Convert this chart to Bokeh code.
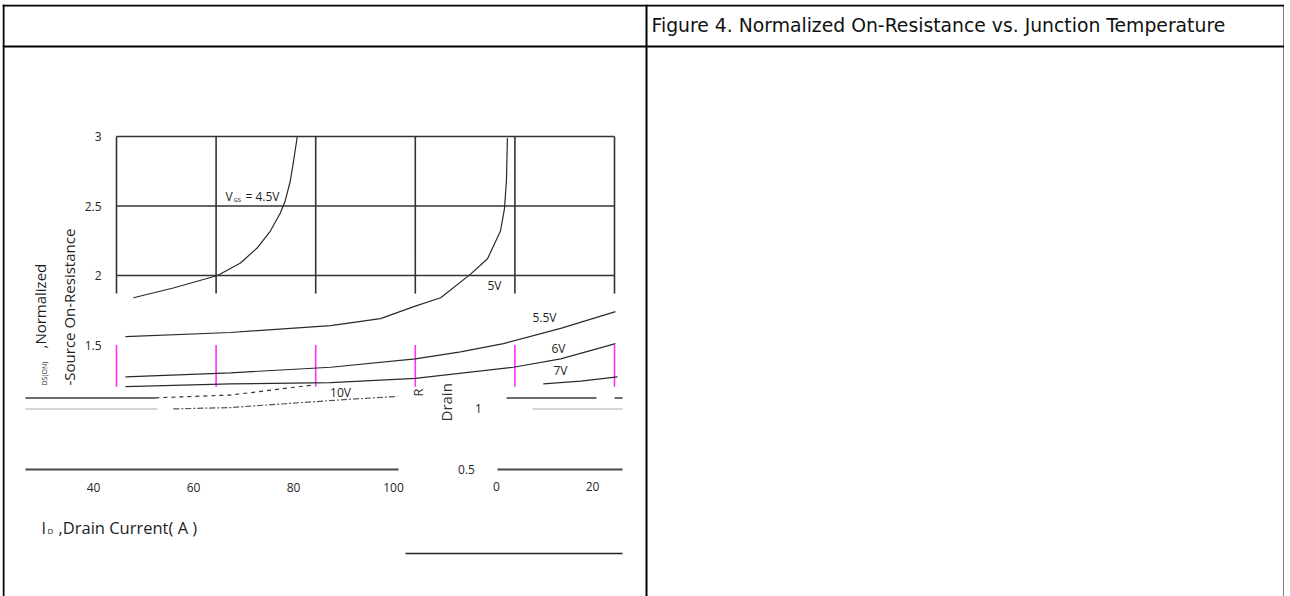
import math
from bokeh.plotting import figure
from bokeh.models import Range1d, Span
from bokeh.core.properties import value
from bokeh.embed import file_html
from bokeh.resources import INLINE

# ---------------- data ----------------
# Normalized on-resistance vs drain current, one curve per gate voltage
ID_45 = [3.4, 11.4, 20.3, 24.9, 28.3, 30.9, 32.9, 33.9, 34.9, 35.5, 36.3]
R_45 = [1.84, 1.91, 2.00, 2.09, 2.20, 2.32, 2.45, 2.54, 2.68, 2.81, 3.00]
ID_5 = [1.8, 22.9, 43.0, 53.0, 60.0, 65.1, 71.1, 74.5, 77.1, 77.9, 78.3, 78.5]
R_5 = [1.56, 1.59, 1.64, 1.69, 1.78, 1.84, 2.01, 2.12, 2.32, 2.48, 2.68, 2.99]
ID_55 = [1.8, 22.9, 43.0, 60.0, 69.1, 77.7, 89.2, 100.2]
R_55 = [1.27, 1.30, 1.34, 1.40, 1.45, 1.51, 1.62, 1.74]
ID_6 = [1.8, 22.9, 43.0, 60.0, 79.7, 89.2, 100.2]
R_6 = [1.20, 1.22, 1.23, 1.26, 1.34, 1.40, 1.51]
ID_7_LEFT = [7.8, 22.9, 39.0]
R_7_LEFT = [1.12, 1.14, 1.21]
ID_7_RIGHT = [85.7, 93.2, 100.6]
R_7_RIGHT = [1.22, 1.24, 1.27]
ID_10 = [11.4, 22.9, 34.9, 47.0, 56.4]
R_10 = [1.04, 1.05, 1.08, 1.11, 1.13]

GRID_ID = [0, 20, 40, 60, 80, 100]
GRID_R = [2.0, 2.5, 3.0]
GRID_R_LOW = 1.87
MAG_R = (1.20, 1.50)
Y_TICKS = [3, 2.5, 2, 1.5]
Y_TICK_LABELS = ["3", "2.5", "2", "1.5"]
X_TICKS = [40, 60, 80, 100]
X_TICK_LABELS = ["40", "60", "80", "100"]
T_TICKS = [0, 20]
T_TICK_LABELS = ["0", "20"]
RN_TICK_LABELS = ["1", "0.5"]
CURVE_LABELS = ["5V", "5.5V", "6V", "7V", "10V"]
TITLE = "Figure 4. Normalized On-Resistance vs. Junction Temperature"

# ---------------- layout (page pixels -> data units) ----------------
OX, OY = 2, 4          # where the canvas sits on the page
W, H = 1282, 592
X0, SX = 116, 4.98     # I_D = 0 at px 116, 4.98 px per A
Y0, SY = 136, 139      # R = 3 at py 136, 139 px per unit
T0, ST = 496, 4.8      # temperature fragment axis
RN0, SRN = 408, 122    # second chart normalized axis (1 at py 408)
L0, SL = 93, 5         # shifted drain-current tick row


def ix(px):
    return (px - X0) / SX


def ry(py):
    return 3 - (py - Y0) / SY


def tx(px):
    return (px - T0) / ST


def ny(py):
    return 1 - (py - RN0) / SRN


def lx(px):
    return 40 + (px - L0) / SL


p = figure(width=W, height=H,
           x_range=Range1d(ix(OX), ix(OX + W)),
           y_range=Range1d(ry(OY + H), ry(OY)),
           x_axis_type=None, y_axis_type=None,
           output_backend="svg", toolbar_location=None, min_border=0)
p.extra_x_ranges = {"temp": Range1d(tx(OX), tx(OX + W)),
                    "xlab": Range1d(lx(OX), lx(OX + W))}
p.extra_y_ranges = {"rn": Range1d(ny(OY + H), ny(OY))}
p.grid.visible = False
p.outline_line_color = None
p.background_fill_color = "white"
p.border_fill_color = "white"
p.styles = {"position": "absolute", "left": f"{OX}px", "top": f"{OY}px"}

# ---- table borders ----
for px in (3, 646, 1284):
    p.add_layout(Span(location=ix(px), dimension="height", line_color="black", line_width=2))
for py in (5, 46):
    p.add_layout(Span(location=ry(py), dimension="width", line_color="black", line_width=2))

GRID_COLOR = "#333333"
# ---- grid of the drain-current chart ----
p.segment(x0=[GRID_ID[0]] * len(GRID_R), y0=GRID_R, x1=[GRID_ID[-1]] * len(GRID_R), y1=GRID_R,
          line_color=GRID_COLOR, line_width=1.6)
p.segment(x0=GRID_ID, y0=[GRID_R_LOW] * len(GRID_ID), x1=GRID_ID, y1=[GRID_R[-1]] * len(GRID_ID),
          line_color=GRID_COLOR, line_width=1.6)
p.segment(x0=GRID_ID, y0=[MAG_R[0]] * len(GRID_ID), x1=GRID_ID, y1=[MAG_R[1]] * len(GRID_ID),
          line_color="#ff2dff", line_width=1.6)

# ---- second-chart fragments (gridline pieces) ----
def hseg(py, spans, color, width):
    p.segment(x0=[tx(a) for a, b in spans], y0=[ny(py)] * len(spans),
              x1=[tx(b) for a, b in spans], y1=[ny(py)] * len(spans),
              line_color=color, line_width=width, x_range_name="temp", y_range_name="rn")

hseg(397.5, [(25, 155), (506, 596), (614, 622)], "#3c3c3c", 1.5)
hseg(408.5, [(25, 157), (532, 622)], "#c8c8c8", 1.6)
hseg(469, [(25, 398), (497, 622)], "#4a4a4a", 2)
hseg(553, [(405, 622)], "#222222", 1.5)

# ---- curves ----
CURVE = "#2a2a2a"
p.line(ID_45, R_45, line_color=CURVE, line_width=1.2)
p.line(ID_5, R_5, line_color=CURVE, line_width=1.2)
p.line(ID_55, R_55, line_color=CURVE, line_width=1.2)
p.line(ID_6, R_6, line_color=CURVE, line_width=1.2)
p.line(ID_7_LEFT, R_7_LEFT, line_color="#333333", line_width=1.2, line_dash="4 4")
p.line(ID_7_RIGHT, R_7_RIGHT, line_color=CURVE, line_width=1.2)
p.line(ID_10, R_10, line_color="#555555", line_width=1.2, line_dash="6 2 2 2")

FONT = value("Open Sans")


def txt(x, y, s, size, color="#333333", align="center", baseline="middle", angle=0.0,
        font=FONT, **kw):
    p.text(x=[x], y=[y], text=[s], text_font=font, text_font_size=value(f"{size}px"),
           text_color=color, text_align=align, text_baseline=baseline, angle=angle, **kw)


# ---- title ----
txt(ix(651), ry(25), TITLE, 18.8, color="#111111", align="left", font=value("DejaVu Sans"))

# ---- tick labels ----
TICK_SIZE = value("12px")
p.text(x=[ix(101)] * len(Y_TICKS), y=Y_TICKS, text=Y_TICK_LABELS, text_font=FONT,
       text_font_size=TICK_SIZE, text_color="#262626", text_align="right", text_baseline="middle")
p.text(x=X_TICKS, y=[ry(487)] * len(X_TICKS), text=X_TICK_LABELS, text_font=FONT,
       text_font_size=TICK_SIZE, text_color="#262626", text_align="center", text_baseline="middle",
       x_range_name="xlab")
p.text(x=T_TICKS, y=[ry(486)] * len(T_TICKS), text=T_TICK_LABELS, text_font=FONT,
       text_font_size=TICK_SIZE, text_color="#262626", text_align="center", text_baseline="middle",
       x_range_name="temp")
p.text(x=[tx(478), tx(466)], y=[1.0, 0.5], text=RN_TICK_LABELS, text_font=FONT,
       text_font_size=TICK_SIZE, text_color="#262626", text_align="center", text_baseline="middle",
       x_range_name="temp", y_range_name="rn")

# ---- curve labels ----
p.text(x=[ix(494), ix(544), ix(558), ix(560), ix(340)],
       y=[ry(285), ry(317), ry(348), ry(370), ry(392)],
       text=CURVE_LABELS, text_font=FONT, text_font_size=value("12px"),
       text_color="#1e1e1e", text_align="center", text_baseline="middle")
txt(ix(225), ry(196), "V", 12, color="#1e1e1e", align="left")
txt(ix(233), ry(199), "GS", 6, color="#1e1e1e", align="left")
txt(ix(245), ry(196), "= 4.5V", 12, color="#1e1e1e", align="left")

# ---- axis titles ----
HALF_PI = math.pi / 2
txt(ix(68), ry(385), "-Source On-Resistance", 15, color="#1e1e1e", align="left", angle=HALF_PI)
txt(ix(44), ry(385), "DS(ON)", 7, color="#1e1e1e", align="left", angle=HALF_PI)
txt(ix(39), ry(348), ",Normalized", 15, color="#1e1e1e", align="left", angle=HALF_PI)
txt(ix(417), ry(396), "R", 13, color="#333333", align="left", angle=HALF_PI)
txt(ix(445), ry(421), "Drain", 15, color="#333333", align="left", angle=HALF_PI)
txt(ix(41), ry(527), "I", 16, color="#1e1e1e", align="left")
txt(ix(47), ry(530), "D", 8, color="#1e1e1e", align="left")
txt(ix(58), ry(527), ",Drain Current( A )", 16.5, color="#1e1e1e", align="left")

open("out.html", "w").write(file_html(p, INLINE))
